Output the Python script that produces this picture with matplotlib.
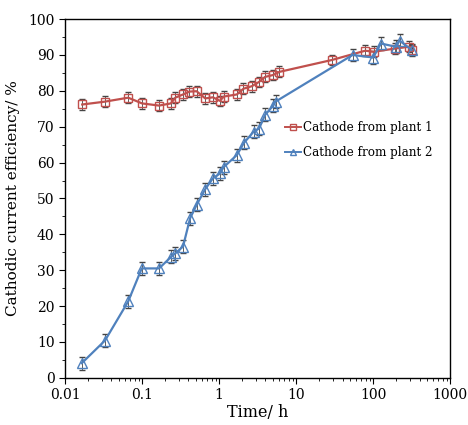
import numpy as np
import matplotlib
matplotlib.use('Agg')
import matplotlib.pyplot as plt
from matplotlib.lines import Line2D
from matplotlib.ticker import FixedLocator, NullFormatter, MultipleLocator

# time (h) and efficiency (%)
t1 = [0.0167, 0.033, 0.066, 0.1, 0.166, 0.236, 0.27, 0.34, 0.41, 0.51, 0.66, 0.83,
      1.03, 1.14, 1.7, 2.07, 2.66, 3.3, 3.95, 4.98, 6.07, 29, 79, 101, 193, 288, 316]
e1 = [76.2, 77.0, 78.1, 76.5, 75.9, 76.5, 78.1, 79.0, 79.8, 79.9, 77.9, 78.2,
      77.2, 78.4, 79.0, 80.6, 81.3, 82.5, 83.9, 84.4, 85.3, 88.6, 91.2, 90.9, 91.8, 92.3, 91.4]
err1 = [1.5] * len(t1)

t2 = [0.0165, 0.033, 0.066, 0.099, 0.166, 0.24, 0.27, 0.34, 0.42, 0.51, 0.66, 0.83,
      1.03, 1.14, 1.7, 2.1, 2.8, 3.3, 3.95, 5.0, 5.4, 54, 100, 126, 197, 220, 316]
e2 = [4.1, 10.4, 21.3, 30.5, 30.5, 33.8, 34.7, 36.6, 44.5, 48.2, 52.6, 55.6,
      57.0, 58.7, 62.1, 65.5, 68.6, 69.5, 73.3, 75.8, 77.0, 90.0, 89.3, 93.2, 92.3, 94.0, 91.4]
err2 = [1.8] * len(t2)

labels = ['Cathode from plant 1', 'Cathode from plant 2']

plt.rcParams['font.family'] = ['DejaVu Serif']

fig = plt.figure(figsize=(4.68, 4.25), dpi=100)
ax = fig.add_axes([0.139, 0.111, 0.823, 0.844])

red = '#c0504d'
blue = '#4f81bd'

ax.errorbar(t1, e1, yerr=err1, color=red, marker='s', mfc='none', mec=red, ms=6,
            mew=1.0, lw=1.6, ecolor='#444444', elinewidth=0.6, capsize=2.5, capthick=0.6,
            zorder=3)
ax.errorbar(t2, e2, yerr=err2, color=blue, marker='^', mfc='none', mec=blue, ms=6.5,
            mew=1.0, lw=1.6, ecolor='#444444', elinewidth=0.6, capsize=2.5, capthick=0.6,
            zorder=3)

ax.set_xscale('log')
ax.set_xlim(0.01, 1000)
ax.set_ylim(0, 100)
ax.set_xticks([0.01, 0.1, 1, 10, 100, 1000])
ax.set_xticklabels(['0.01', '0.1', '1', '10', '100', '1000'])
ax.xaxis.set_minor_locator(FixedLocator([m * 10.0 ** k for k in range(-2, 3) for m in range(2, 10)]))
ax.xaxis.set_minor_formatter(NullFormatter())
ax.yaxis.set_major_locator(MultipleLocator(10))
ax.yaxis.set_minor_locator(MultipleLocator(5))

ax.tick_params(which='both', direction='out', top=False, right=False, labelsize=10)
ax.tick_params(which='major', length=4)
ax.tick_params(which='minor', length=2.5)
for s in ax.spines.values():
    s.set_linewidth(1.0)

ax.set_xlabel('Time/ h', fontsize=11.5, labelpad=1)
ax.set_ylabel('Cathodic current efficiency/ %', fontsize=11, labelpad=6)

handles = [Line2D([], [], color=red, marker='s', mfc='none', mec=red, ms=5, lw=1.4),
           Line2D([], [], color=blue, marker='^', mfc='none', mec=blue, ms=5, lw=1.4)]
ax.legend(handles, labels, loc='upper left', bbox_to_anchor=(0.57, 0.715), frameon=False,
          fontsize=8.6, handlelength=1.4, handletextpad=0.15, labelspacing=0.95,
          borderaxespad=0, borderpad=0)

fig.savefig('out.png', dpi=100)
